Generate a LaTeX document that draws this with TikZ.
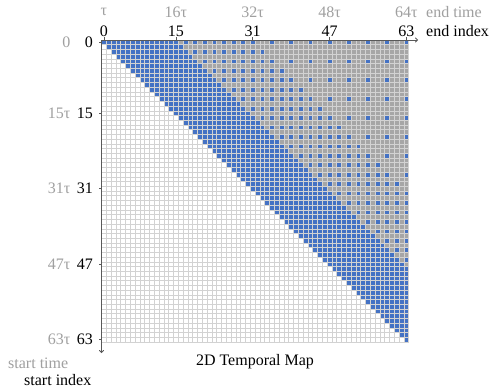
\documentclass[tikz,border=0pt]{standalone}
\usepackage{fontspec}
\setmainfont{Liberation Serif}
\usetikzlibrary{arrows.meta}
\definecolor{cellblue}{HTML}{4472C4}
\definecolor{cellgray}{HTML}{A6A6A6}
\definecolor{gridc}{HTML}{D2D2D2}
\definecolor{axisc}{HTML}{595959}
\definecolor{timec}{HTML}{A0A0A0}
\begin{document}
\begin{tikzpicture}[x=1pt,y=-1pt,
  lbl/.style={font=\fontsize{16}{19}\selectfont, inner sep=0pt, text=black},
  tlbl/.style={lbl, text=timec},
  gridline/.style={draw=gridc, line width=0.6pt},
  axisline/.style={draw=axisc, line width=0.8pt},
  tickline/.style={draw=axisc, line width=0.6pt}]
\useasboundingbox (0,0) rectangle (491,389);
\fill[white] (0,0) rectangle (491,389);

\begin{scope}[shift={(101.5,40)}, xscale=4.8, yscale=4.72]
  % gray sparse region
  \foreach \i in {0,...,47} \fill[cellgray] (\i+16,\i) rectangle (64,\i+1);
  % dense blue band
  \foreach \i in {0,...,63} {
    \pgfmathtruncatemacro\e{min(\i+16,64)}
    \fill[cellblue] (\i,\i) rectangle (\e,\i+1);
  }
  % stride 2
  \foreach \o in {17,19,...,31} {
    \pgfmathtruncatemacro\n{63-\o}
    \foreach \i in {0,2,...,\n} \fill[cellblue] (\i+\o,\i) rectangle ++(1,1);
  }
  % stride 4
  \foreach \o in {35,39,...,63} {
    \foreach \i in {0,4,...,28} {
      \pgfmathtruncatemacro\s{\i+\o}
      \ifnum\s<64 \fill[cellblue] (\s,\i) rectangle ++(1,1); \fi
    }
  }
  % grid lines
  \foreach \k in {0,...,64} {
    \draw[gridline] (\k,0) -- (\k,64);
    \draw[gridline] (0,\k) -- (64,\k);
  }
\end{scope}

% axes
\coordinate (O) at (101.5,40);
\coordinate (xe) at (418,40);
\coordinate (ye) at (101.5,353);
\draw[axisline,-{To[length=3pt,width=5pt]}] (O) -- (xe);
\draw[axisline,-{To[length=3pt,width=5pt]}] (O) -- (ye);

% top ticks and labels
\foreach \j/\t/\lab [count=\c] in {0/{τ}/0, 15/16τ/15, 31/32τ/31, 47/48τ/47, 63/64τ/63} {
  \coordinate (tx\c) at ({101.5+(\j+0.5)*4.8},40);
  \draw[tickline] (tx\c) -- ++(0,-3);
  \node[tlbl] (tt\c) at ({101.5+(\j+0.5)*4.8},12) {\t};
  \node[lbl] (ti\c) at ({101.5+(\j+0.5)*4.8},31) {\lab};
}
\node[tlbl, anchor=west] (endtime) at (426,12) {end time};
\node[lbl, anchor=west] (endindex) at (426,31) {end index};

% left ticks and labels
\foreach \i/\t/\lab [count=\c] in {0/0/0, 15/15τ/15, 31/31τ/31, 47/47τ/47, 63/63τ/63} {
  \coordinate (ty\c) at (101.5,{40+(\i+0.5)*4.72});
  \draw[tickline] (ty\c) -- ++(-3,0);
  \node[tlbl, anchor=east] (lt\c) at (70.5,{40+(\i+0.5)*4.72}) {\t};
  \node[lbl, anchor=east] (li\c) at (93,{40+(\i+0.5)*4.72}) {\lab};
}
\node[tlbl, anchor=west] (starttime) at (8,363) {start time};
\node[lbl, anchor=west] (startindex) at (24,380) {start index};
\node[lbl] (title) at (255,362) {2D Temporal Map};
\end{tikzpicture}
\end{document}
